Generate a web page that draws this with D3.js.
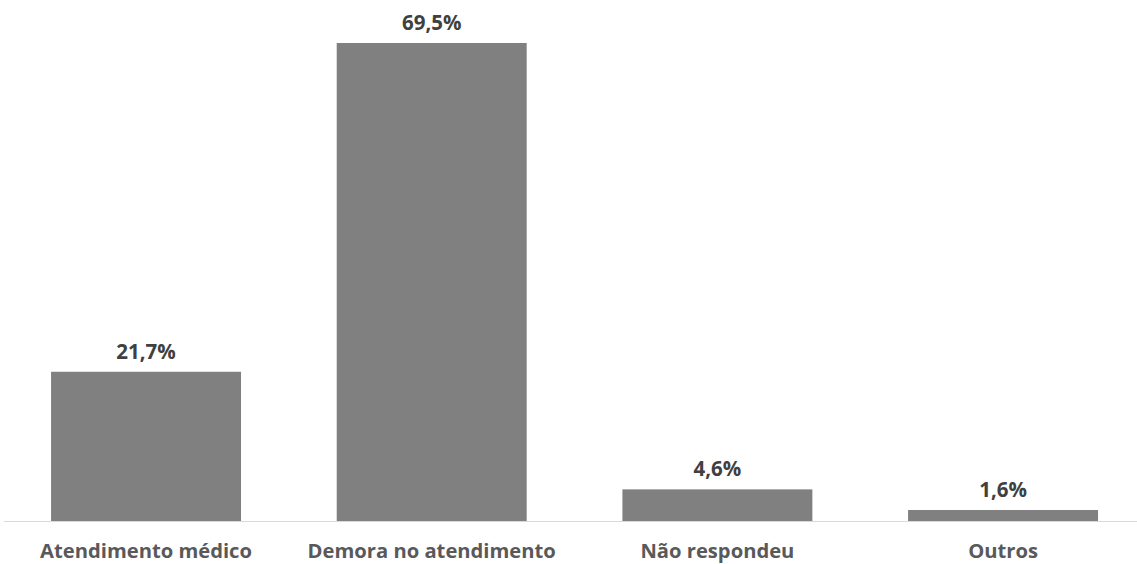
<!DOCTYPE html>
<html>
<head>
<meta charset="utf-8">
<script src="https://cdn.jsdelivr.net/npm/d3@7"></script>
<style>
  html, body { margin: 0; padding: 0; background: #ffffff; }
  svg { display: block; }
</style>
</head>
<body>
<svg id="chart" width="1137" height="564"></svg>
<script>
const categories = ["Atendimento médico", "Demora no atendimento", "Não respondeu", "Outros"];
const values = [21.7, 69.5, 4.6, 1.6];
const valueLabels = ["21,7%", "69,5%", "4,6%", "1,6%"];

const svg = d3.select("#chart");
const W = 1137, H = 564;
const baseY = 521;

const x = d3.scaleBand()
  .domain(categories)
  .range([3.2, 1145.9])
  .paddingInner(0.335)
  .paddingOuter(0.1675);

const y = d3.scaleLinear()
  .domain([0, 69.5])
  .range([baseY, 43]);

const font = "'Open Sans', 'Noto Sans', sans-serif";

svg.selectAll("rect.bar")
  .data(values)
  .join("rect")
  .attr("class", "bar")
  .attr("x", (d, i) => x(categories[i]))
  .attr("width", x.bandwidth())
  .attr("y", d => y(d))
  .attr("height", d => baseY - y(d))
  .attr("fill", "#808080");

// axis line
const xAxis = d3.axisBottom(x).tickSize(0).tickPadding(20);
const ax = svg.append("g")
  .attr("transform", `translate(0,${baseY + 0.5})`)
  .call(xAxis);
ax.select(".domain").remove();
ax.append("line")
  .attr("x1", 4).attr("x2", W)
  .attr("y1", 0).attr("y2", 0)
  .attr("stroke", "#d9d9d9").attr("stroke-width", 1);
ax.selectAll(".tick text")
  .attr("fill", "#595959")
  .style("font-family", font)
  .style("font-size", "20.2px")
  .style("font-weight", "700")
  .attr("dy", "0")
  .attr("y", 36.5);

svg.selectAll("text.val")
  .data(values)
  .join("text")
  .attr("class", "val")
  .attr("x", (d, i) => x(categories[i]) + x.bandwidth() / 2)
  .attr("y", d => y(d) - 13)
  .attr("text-anchor", "middle")
  .attr("fill", "#404040")
  .style("font-family", font)
  .style("font-size", "20.5px")
  .style("font-weight", "700")
  .text((d, i) => valueLabels[i]);
</script>
</body>
</html>
